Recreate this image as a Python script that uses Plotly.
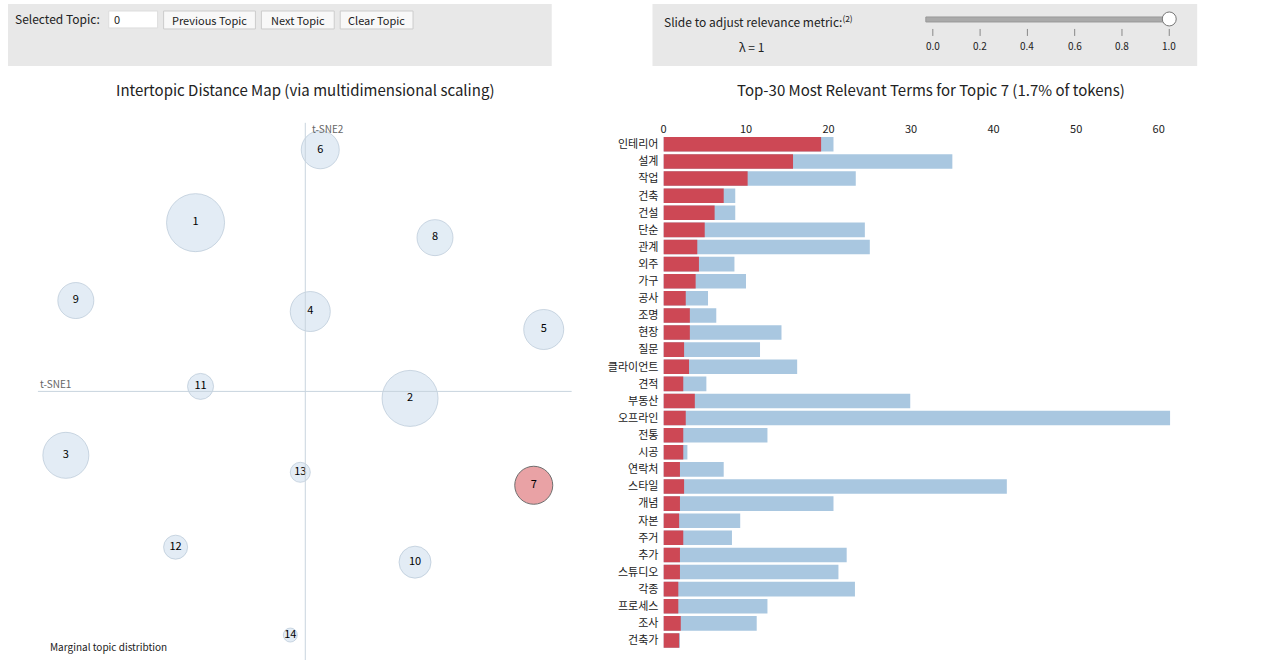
import plotly.graph_objects as go

# intertopic map (pixel-derived coordinates, arbitrary units)
topic_ids = ['1', '2', '3', '4', '5', '6', '7', '8', '9', '10', '11', '12', '13', '14']
topic_x = [-1.10, 1.05, -2.40, 0.05, 2.39, 0.15, 2.29, 1.30, -2.30, 1.10, -1.05, -1.30, -0.05, -0.15]
topic_y = [1.69, -0.07, -0.64, 0.80, 0.62, 2.42, -0.94, 1.54, 0.91, -1.71, 0.05, -1.56, -0.81, -2.44]
topic_size = [58, 56, 46, 40, 40, 38, 38, 36, 36, 32, 26, 24, 20, 14]
selected_topic = '7'

# top terms for topic 7
terms = ['인테리어', '설계', '작업', '건축', '건설', '단순', '관계', '외주', '가구', '공사',
         '조명', '현장', '질문', '클라이언트', '견적', '부동산', '오프라인', '전통', '시공', '연락처',
         '스타일', '개념', '자본', '주거', '추가', '스튜디오', '각종', '프로세스', '조사', '건축가']
term_topic = [19.1, 15.7, 10.2, 7.3, 6.2, 5.0, 4.1, 4.3, 3.9, 2.7,
              3.2, 3.2, 2.5, 3.1, 2.4, 3.8, 2.7, 2.4, 2.4, 2.0,
              2.5, 2.0, 1.9, 2.4, 2.0, 2.0, 1.8, 1.8, 2.1, 1.9]
term_total = [20.6, 35.0, 23.3, 8.7, 8.7, 24.4, 25.0, 8.6, 10.0, 5.4,
              6.4, 14.3, 11.7, 16.2, 5.2, 29.9, 61.4, 12.6, 2.9, 7.3,
              41.6, 20.6, 9.3, 8.3, 22.2, 21.2, 23.2, 12.6, 11.3, 2.0]

W, H = 1280, 660
FONT = 'Noto Sans CJK KR'


def px(x):
    return x / W


def py(y):
    return 1 - y / H


fig = go.Figure()

fill = ['#e07b7f' if t == selected_topic else 'rgba(190,212,232,0.6)' for t in topic_ids]
line = ['#333333' if t == selected_topic else 'rgba(140,165,190,0.6)' for t in topic_ids]
fig.add_trace(go.Scatter(
    x=topic_x, y=topic_y, mode='markers+text', text=topic_ids,
    textfont=dict(size=11, color='black', family=FONT),
    marker=dict(size=topic_size, sizemode='diameter', color=fill, line=dict(color=line, width=1)),
    xaxis='x', yaxis='y', showlegend=False, hoverinfo='text',
))

fig.add_trace(go.Bar(
    y=terms, x=term_total, orientation='h', marker=dict(color='#a9c7e0', line=dict(width=0)),
    xaxis='x2', yaxis='y2', showlegend=False, width=0.85,
))
fig.add_trace(go.Bar(
    y=terms, x=term_topic, orientation='h', marker=dict(color='#cd4855', line=dict(width=0)),
    xaxis='x2', yaxis='y2', showlegend=False, width=0.85,
))

shapes = [
    dict(type='rect', xref='paper', yref='paper', x0=px(5), x1=px(550), y0=py(65), y1=py(3),
         fillcolor='#e8e8e8', line=dict(width=0), layer='below'),
    dict(type='rect', xref='paper', yref='paper', x0=px(651), x1=px(1197), y0=py(65), y1=py(3),
         fillcolor='#e8e8e8', line=dict(width=0), layer='below'),
    dict(type='line', xref='x', yref='paper', x0=0, x1=0, y0=py(660), y1=py(122),
         line=dict(color='#c8d4de', width=1)),
    dict(type='line', xref='paper', yref='y', x0=px(35), x1=px(570), y0=0, y1=0,
         line=dict(color='#c8d4de', width=1)),
    # input box
    dict(type='rect', xref='paper', yref='paper', x0=px(106), x1=px(155), y0=py(27), y1=py(10),
         fillcolor='white', line=dict(color='#dddddd', width=1)),
    # slider
    dict(type='rect', xref='paper', yref='paper', x0=px(925), x1=px(1169), y0=py(21), y1=py(16),
         fillcolor='#aaaaaa', line=dict(color='#999999', width=1)),
    dict(type='circle', xref='paper', yref='paper', x0=px(1162), x1=px(1176), y0=py(25), y1=py(11),
         fillcolor='white', line=dict(color='#777777', width=1)),
]
annotations = [
    dict(text='Selected Topic:', x=px(10), y=py(18), xanchor='left', font=dict(size=12)),
    dict(text='0', x=px(109), y=py(18), xanchor='left', font=dict(size=11)),
    dict(text='Slide to adjust relevance metric:<sup>(2)</sup>', x=px(661), y=py(20), xanchor='left',
         font=dict(size=12)),
    dict(text='λ = 1', x=px(750), y=py(46), font=dict(size=12)),
    dict(text='Intertopic Distance Map (via multidimensional scaling)', x=px(303), y=py(89),
         font=dict(size=15)),
    dict(text='Top-30 Most Relevant Terms for Topic 7 (1.7% of tokens)', x=px(930), y=py(89),
         font=dict(size=15)),
    dict(text='t-SNE1', x=px(35), y=py(383), xanchor='left', font=dict(size=10, color='#666666')),
    dict(text='t-SNE2', x=px(308), y=py(128), xanchor='left', font=dict(size=10, color='#666666')),
    dict(text='Marginal topic distribtion', x=px(45), y=py(646), xanchor='left', font=dict(size=10)),
]
for label, x0, x1 in [('Previous Topic', 161, 253), ('Next Topic', 259, 332), ('Clear Topic', 338, 411)]:
    shapes.append(dict(type='rect', xref='paper', yref='paper', x0=px(x0), x1=px(x1), y0=py(28), y1=py(10),
                       fillcolor='#f8f8f8', line=dict(color='#cccccc', width=1)))
    annotations.append(dict(text=label, x=px((x0 + x1) / 2), y=py(19), font=dict(size=11)))
for i, v in enumerate(['0.0', '0.2', '0.4', '0.6', '0.8', '1.0']):
    xp = 932 + i * 47.4
    shapes.append(dict(type='line', xref='paper', yref='paper', x0=px(xp), x1=px(xp), y0=py(28), y1=py(35),
                       line=dict(color='#888888', width=1)))
    annotations.append(dict(text=v, x=px(xp), y=py(45), font=dict(size=10)))
for a in annotations:
    a.setdefault('xanchor', 'center')
    a.update(xref='paper', yref='paper', yanchor='middle', showarrow=False)

fig.update_layout(
    width=W, height=H, margin=dict(l=0, r=0, t=0, b=0),
    paper_bgcolor='white', plot_bgcolor='white',
    font=dict(family=FONT, color='#222222'),
    barmode='overlay', bargap=0.15,
    xaxis=dict(domain=[px(35), px(570)], range=[-2.68, 2.67], visible=False),
    yaxis=dict(domain=[py(655), py(122)], range=[-2.64, 2.69], visible=False),
    xaxis2=dict(domain=[px(662), px(1170)], range=[0, 61.4], side='top', anchor='y2',
                showgrid=False, zeroline=False, tickvals=[0, 10, 20, 30, 40, 50, 60],
                tickfont=dict(size=11), ticks='', showline=False),
    yaxis2=dict(domain=[py(649), py(135)], anchor='x2', autorange='reversed', showgrid=False,
                tickfont=dict(size=11), ticks='', ticklabelstandoff=4),
    shapes=shapes, annotations=annotations,
)

fig.write_html('out.html', config={'displayModeBar': False},
               post_script="document.body.style.margin='0';")
